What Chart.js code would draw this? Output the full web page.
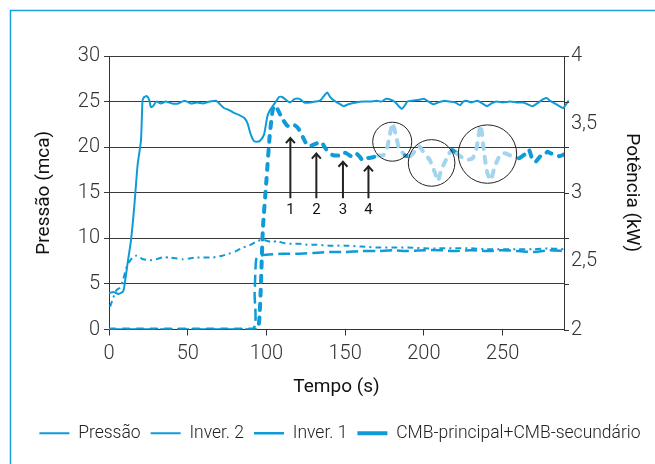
<!DOCTYPE html>
<html>
<head>
<meta charset="utf-8">
<script src="https://cdn.jsdelivr.net/npm/chart.js@4"></script>
<style>
  html, body { margin: 0; padding: 0; background: #fff; }
</style>
</head>
<body>
<canvas id="grafico" width="655" height="464"></canvas>
<script>
// valores
const tempoPressao = [0, 3, 6, 9, 10.3, 12, 13.9, 16, 18.2, 20.3, 21.3, 22.4, 24, 25.5, 26.6, 28, 30, 33, 36, 40, 44, 48, 52, 56, 60, 64, 68, 70, 73, 76, 79, 83, 86, 88, 90, 92, 94, 96, 98.5, 100.5, 102, 104, 106, 108, 110, 113, 115, 118, 121, 124, 128, 131, 134, 136, 138.6, 140.5, 143, 146, 149, 152, 157, 162, 166, 170, 173, 176, 179, 182, 184, 186, 188, 189.5, 193, 197, 200, 203, 206, 209, 213, 216, 220, 223, 225, 227, 230, 234, 237, 240, 243, 246, 250, 255, 259, 263, 266, 269, 272, 275, 278, 280, 282, 285, 288.6, 292, 297];
const pressao = [4.0, 4.1, 3.9, 4.2, 5.4, 7.5, 9.7, 13.4, 18.1, 20.7, 25.1, 25.5, 25.6, 25.2, 24.4, 24.5, 25.0, 24.8, 25.0, 24.8, 24.8, 25.1, 24.8, 24.9, 24.8, 25.0, 25.1, 24.8, 24.3, 24.1, 23.8, 23.5, 23.2, 22.6, 21.4, 20.7, 20.6, 20.7, 21.4, 23.3, 24.0, 24.5, 25.0, 25.5, 25.5, 25.1, 24.9, 25.3, 25.3, 24.9, 24.9, 25.0, 25.1, 25.5, 26.0, 25.5, 25.1, 24.8, 24.5, 24.7, 24.9, 25.0, 25.0, 25.1, 25.0, 25.3, 25.2, 24.9, 24.5, 24.2, 24.6, 25.0, 25.1, 25.2, 25.3, 25.0, 24.7, 24.9, 25.1, 25.0, 24.9, 24.6, 25.0, 25.1, 24.9, 25.1, 24.8, 24.5, 24.8, 25.0, 24.9, 25.0, 24.9, 24.9, 24.7, 24.5, 24.8, 25.2, 25.4, 25.1, 24.9, 24.6, 24.3, 25.1, 25.2];

const tempoInver2 = [0.7, 2.5, 4.7, 7, 8.9, 11, 13.2, 15, 17.4, 19.5, 21.6, 26, 30, 34, 38.5, 43, 47, 51, 55, 60, 66, 72, 76, 80.6, 84, 87, 90, 93, 96, 99, 103, 107, 110.5, 116, 121, 126, 131, 140, 150, 160, 170, 180, 190, 200, 210, 220, 230, 240, 250, 260, 270, 280, 289];
const inver2 = [2.5, 3.4, 4.3, 4.6, 5.4, 6.8, 7.5, 7.9, 8.1, 7.9, 7.7, 7.6, 7.7, 7.9, 7.9, 7.8, 7.7, 7.8, 7.9, 7.9, 7.9, 8.1, 8.3, 8.6, 8.9, 9.1, 9.3, 9.6, 9.8, 9.8, 9.6, 9.7, 9.5, 9.4, 9.4, 9.3, 9.3, 9.2, 9.2, 9.1, 9.0, 9.0, 9.0, 8.9, 8.9, 8.9, 8.9, 8.8, 8.8, 8.8, 8.8, 8.9, 8.8];

const tempoInver1 = [0, 91, 92.5, 93.5, 96, 100, 110, 120, 130, 140, 150, 160, 170, 180, 190, 200, 210, 220, 230, 240, 250, 260, 270, 280, 289];
const inver1 = [0, 0, 4, 7.7, 8.1, 8.2, 8.3, 8.3, 8.4, 8.5, 8.5, 8.6, 8.6, 8.7, 8.6, 8.7, 8.7, 8.6, 8.7, 8.6, 8.7, 8.6, 8.5, 8.7, 8.6];

const tempoCMB = [0, 93.5, 95.7, 97.7, 100, 102, 104, 105.7, 107.5, 110.5, 113, 115, 118, 120, 122, 124, 126.4, 129, 131.7, 134.8, 137, 140, 143, 146.5, 149, 151, 154, 157, 159, 161, 164, 167.6, 171, 174, 176, 178, 180, 182, 184, 186, 188, 191, 194, 197, 200, 203.7, 207, 209, 211, 214, 216, 218, 221, 224, 226.7, 231, 233.5, 236, 238.3, 240.4, 242.5, 244.7, 246.8, 249, 252, 256, 260.5, 264.7, 266.8, 269, 271, 274, 276.4, 278.5, 280.6, 283.7, 286, 289];
const potenciaCMB = [2.0, 2.0, 2.12, 2.727, 3.093, 3.407, 3.607, 3.64, 3.6, 3.533, 3.493, 3.48, 3.493, 3.473, 3.433, 3.387, 3.34, 3.347, 3.36, 3.373, 3.333, 3.287, 3.273, 3.273, 3.293, 3.287, 3.267, 3.287, 3.267, 3.24, 3.253, 3.26, 3.273, 3.273, 3.3, 3.4, 3.507, 3.433, 3.333, 3.3, 3.273, 3.267, 3.3, 3.34, 3.293, 3.24, 3.147, 3.087, 3.167, 3.24, 3.287, 3.313, 3.287, 3.26, 3.24, 3.253, 3.33, 3.493, 3.287, 3.14, 3.093, 3.18, 3.24, 3.287, 3.287, 3.267, 3.253, 3.287, 3.313, 3.24, 3.227, 3.267, 3.273, 3.3, 3.287, 3.287, 3.267, 3.28];

// setas numeradas (tempo, ponta em mca)
const setaTempo = [115.2, 131.7, 148.6, 164.8];
const setaPonta = [21.0, 19.3, 18.4, 17.9];
const setaRotulo = ['1', '2', '3', '4'];

// círculos de destaque (centro em tempo / mca)
const circuloTempo = [179.9, 204.9, 240.4];
const circuloPressao = [20.6, 18.27, 19.24];

const azul = '#0f9bd7';
const azulClaro = '#a3d5ef';
const circuloRaio = [19.5, 23.3, 29.2];

const pts = (xs, ys) => xs.map((x, i) => ({ x, y: ys[i] }));

function dentroCirculo(chart, px, py) {
  const sx = chart.scales.x, sy = chart.scales.y;
  return circuloTempo.some((t, i) =>
    Math.hypot(px - sx.getPixelForValue(t), py - sy.getPixelForValue(circuloPressao[i])) < circuloRaio[i]);
}

const moldura = {
  id: 'moldura',
  beforeDraw(chart) {
    const ctx = chart.ctx;
    ctx.save();
    ctx.strokeStyle = '#18a0dc';
    ctx.lineWidth = 1.5;
    ctx.beginPath();
    ctx.moveTo(10.5, 464);
    ctx.lineTo(10.5, 10.5);
    ctx.lineTo(655, 10.5);
    ctx.stroke();
    ctx.restore();
  }
};

const anotacoes = {
  id: 'anotacoes',
  afterDraw(chart) {
    const ctx = chart.ctx, sx = chart.scales.x, sy = chart.scales.y;
    const area = chart.chartArea;
    ctx.save();
    // marcas curtas no eixo direito
    ctx.strokeStyle = '#333';
    ctx.lineWidth = 1;
    sy.ticks.forEach(t => {
      const y = Math.round(sy.getPixelForValue(t.value)) + 0.5;
      ctx.beginPath();
      ctx.moveTo(area.right, y);
      ctx.lineTo(area.right + 5, y);
      ctx.stroke();
    });
    // círculos
    ctx.strokeStyle = '#222';
    circuloTempo.forEach((t, i) => {
      ctx.beginPath();
      ctx.arc(sx.getPixelForValue(t), sy.getPixelForValue(circuloPressao[i]), circuloRaio[i], 0, Math.PI * 2);
      ctx.stroke();
    });
    // setas
    ctx.lineWidth = 2;
    ctx.fillStyle = '#111';
    ctx.font = '15px Roboto';
    ctx.textAlign = 'center';
    ctx.textBaseline = 'middle';
    setaTempo.forEach((t, i) => {
      const x = sx.getPixelForValue(t);
      const yTopo = sy.getPixelForValue(setaPonta[i]);
      const yBase = sy.getPixelForValue(14.4);
      ctx.beginPath();
      ctx.moveTo(x, yBase);
      ctx.lineTo(x, yTopo);
      ctx.moveTo(x - 4.5, yTopo + 5);
      ctx.lineTo(x, yTopo);
      ctx.lineTo(x + 4.5, yTopo + 5);
      ctx.stroke();
      ctx.fillText(setaRotulo[i], x, sy.getPixelForValue(13.1));
    });
    ctx.restore();
  }
};

Chart.defaults.font.family = 'Roboto';

new Chart(document.getElementById('grafico'), {
  type: 'line',
  data: {
    datasets: [
      {
        label: 'Pressão',
        data: pts(tempoPressao, pressao),
        borderColor: azul,
        borderWidth: 2,
        yAxisID: 'y',
        clip: { left: 0, top: 5, right: 14, bottom: 0 }
      },
      {
        label: 'Inver. 2',
        data: pts(tempoInver2, inver2),
        borderColor: azul,
        borderWidth: 2,
        borderDash: [6, 4, 2, 4],
        yAxisID: 'y'
      },
      {
        label: 'Inver. 1',
        data: pts(tempoInver1, inver1),
        borderColor: azul,
        borderWidth: 2.5,
        borderDash: [12, 5],
        yAxisID: 'y'
      },
      {
        label: 'CMB-principal+CMB-secundário',
        data: pts(tempoCMB, potenciaCMB),
        borderColor: azul,
        borderWidth: 4,
        borderDash: [6, 8],
        borderCapStyle: 'round',
        yAxisID: 'y2',
        segment: {
          borderColor: c => dentroCirculo(c.chart, (c.p0.x + c.p1.x) / 2, (c.p0.y + c.p1.y) / 2) ? azulClaro : azul
        }
      }
    ]
  },
  options: {
    responsive: false,
    animation: false,
    elements: { point: { radius: 0 }, line: { tension: 0.2 } },
    layout: { padding: { left: 25, right: 0, top: 56, bottom: 12 } },
    plugins: {
      tooltip: { enabled: false },
      legend: {
        position: 'bottom',
        labels: {
          usePointStyle: true,
          pointStyle: 'line',
          pointStyleWidth: 30,
          padding: 10,
          color: '#222',
          font: { size: 17.5, weight: '300' }
        }
      }
    },
    scales: {
      x: {
        type: 'linear',
        min: 0,
        max: 289,
        afterFit: s => { s.height = 85; },
        ticks: { stepSize: 50, includeBounds: false, padding: 6, color: '#333', font: { size: 20, weight: '300' } },
        grid: { drawOnChartArea: false, tickLength: 6, color: '#333' },
        border: { color: '#333' },
        title: { display: true, text: 'Tempo (s)', color: '#111', font: { size: 19 }, padding: { top: 0, bottom: 16 } }
      },
      y: {
        position: 'left',
        min: 0,
        max: 30,
        afterFit: s => { s.width = 84; },
        ticks: { stepSize: 5, padding: 4, color: '#333', font: { size: 20, weight: '300' } },
        grid: { color: '#3a3a3a', tickLength: 5 },
        border: { color: '#333' },
        title: { display: true, text: 'Pressão (mca)', color: '#111', font: { size: 19 }, padding: { top: 8, bottom: 0 } }
      },
      y2: {
        position: 'right',
        min: 2,
        max: 4,
        afterFit: s => { s.width = 91; },
        ticks: { stepSize: 0.5, padding: 7, color: '#333', font: { size: 20, weight: '300' },
          callback: v => String(v).replace('.', ',') },
        grid: { drawOnChartArea: false, drawTicks: false },
        border: { color: '#333' },
        title: { display: true, text: 'Potência (kW)', color: '#111', font: { size: 19 }, padding: { top: 12, bottom: 0 } }
      }
    }
  },
  plugins: [moldura, anotacoes]
});
</script>
</body>
</html>
